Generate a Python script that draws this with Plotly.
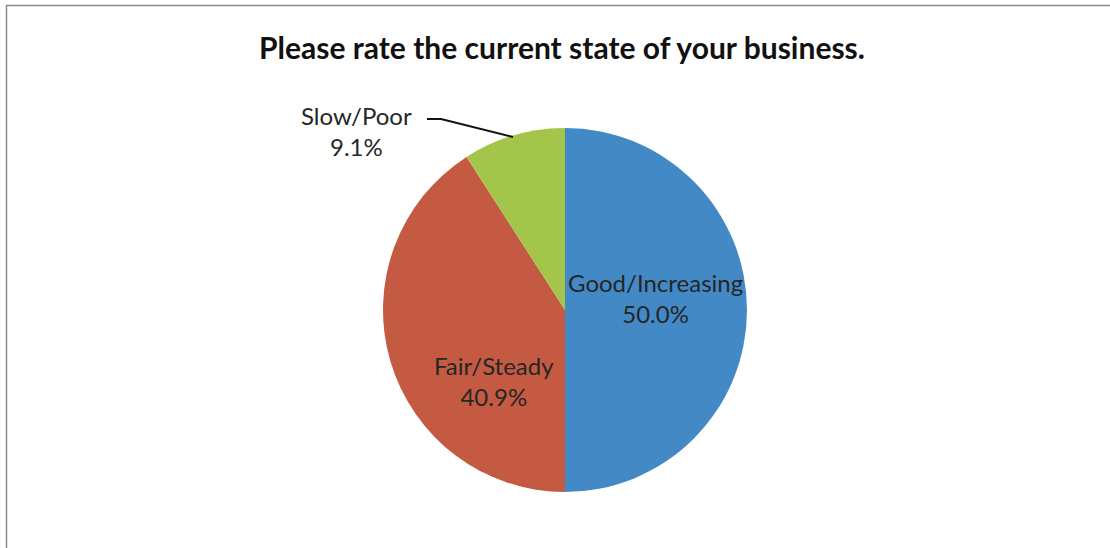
import plotly.graph_objects as go

categories = ["Good/Increasing", "Fair/Steady", "Slow/Poor"]
shares = [50.0, 40.9, 9.1]
colors = ["#4289c6", "#c45a42", "#a2c54a"]

W, H = 1110, 548
cx, cy, r = 565, 310, 182


def px(x):
    return x / W


def py(y):
    return 1 - y / H


fig = go.Figure(
    go.Pie(
        labels=categories,
        values=shares,
        sort=False,
        direction="clockwise",
        rotation=0,
        marker=dict(colors=colors, line=dict(width=0)),
        textinfo="none",
        hoverinfo="label+percent",
        showlegend=False,
        domain=dict(x=[px(cx - r), px(cx + r)], y=[py(cy + r), py(cy - r)]),
    )
)

label_font = dict(family="Lato, Open Sans, sans-serif", size=24, color="#262626")

# slice labels: (x, y) centres in pixels
label_pos = [(655, 298), (494, 381), (356, 131)]
for name, val, (lx, ly) in zip(categories, shares, label_pos):
    fig.add_annotation(
        x=px(lx), y=py(ly), xref="paper", yref="paper",
        text=f"{name}<br>{val:.1f}%", showarrow=False,
        font=label_font, align="center", xanchor="center", yanchor="middle",
    )

# leader line for the small slice
fig.add_shape(
    type="path",
    path=f"M {px(427)} {py(119)} L {px(441)} {py(119)} L {px(513)} {py(137)}",
    xref="paper", yref="paper",
    line=dict(color="#111111", width=2),
)

# chart frame
fig.add_shape(
    type="rect", xref="paper", yref="paper",
    x0=px(6.5), x1=1.05, y0=-0.05, y1=py(5.5),
    line=dict(color="#8a8a8a", width=1.5),
)

fig.update_layout(
    width=W, height=H,
    margin=dict(l=0, r=0, t=0, b=0),
    paper_bgcolor="white", plot_bgcolor="white",
    title=dict(
        text="<b>Please rate the current state of your business.</b>",
        x=562 / W, xanchor="center", y=py(48), yanchor="middle",
        font=dict(family="Lato, Open Sans, sans-serif", size=30, color="#111111"),
    ),
)

fig.write_html("out.html")
